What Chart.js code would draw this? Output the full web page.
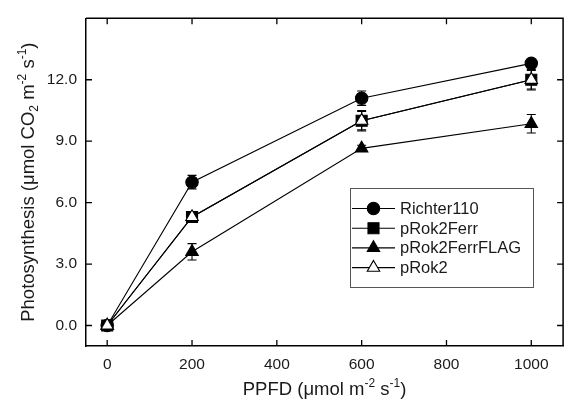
<!DOCTYPE html>
<html><head><meta charset="utf-8">
<script src="https://cdn.jsdelivr.net/npm/chart.js@4.4.1/dist/chart.umd.min.js"></script>
<style>
html,body{margin:0;padding:0;overflow:hidden;background:#fff;width:564px;height:409px}
#wrap{position:absolute;left:0;top:0;width:572px;height:409px}
</style>
</head><body><div id="wrap"><canvas id="c" width="572" height="409"></canvas></div>
<script>
// ---- data ----
const ppfd = [0, 200, 600, 1000];
const seriesNames = ['Richter110', 'pRok2Ferr', 'pRok2FerrFLAG', 'pRok2'];
const richter110 = [0, 7.0, 11.1, 12.8];
const pRok2Ferr = [0, 5.3, 10.0, 12.0];
const pRok2FerrFLAG = [0, 3.6, 8.65, 9.85];
const pRok2 = [0, 5.3, 10.0, 12.0];
const richter110Err = [0.1, 0.33, 0.35, 0.15];
const pRok2FerrErr = [0.1, 0.15, 0.5, 0.5];
const pRok2FerrFLAGErr = [0.1, 0.4, 0.15, 0.45];
const pRok2Err = [0.1, 0.15, 0.45, 0.45];
const xTicks = [0, 200, 400, 600, 800, 1000];
const yTicks = [0, 3, 6, 9, 12];
const xTitle = [{t:'PPFD (\u03BCmol m'},{t:'-2',s:'sup'},{t:' s'},{t:'-1',s:'sup'},{t:')'}];
const yTitle = [{t:'Photosynthesis (\u03BCmol CO'},{t:'2',s:'sub'},{t:' m'},{t:'-2',s:'sup'},{t:' s'},{t:'-1',s:'sup'},{t:')'}];

const FAMILY = 'Arial, "Liberation Sans", sans-serif';
const INK = '#1a1a1a';

function pts(ys){ return ppfd.map((x,i)=>({x:x, y:ys[i]})); }

const values = [richter110, pRok2Ferr, pRok2FerrFLAG, pRok2];
const errors = [richter110Err, pRok2FerrErr, pRok2FerrFLAGErr, pRok2Err];
const styles = [
  {pointStyle:'circle', pointRadius:6.2, fill:'#000', order:2},
  {pointStyle:'rect', pointRadius:7.8, fill:'#000', order:2},
  {pointStyle:'triangle', pointRadius:7.2, fill:'#000', order:2},
  {pointStyle:'triangle', pointRadius:7.2, fill:'#fff', order:1}
];

const datasets = seriesNames.map((name,i)=>({
  label: name,
  data: pts(values[i]),
  errs: errors[i],
  showLine: true,
  borderColor: '#000',
  borderWidth: 1.1,
  pointStyle: styles[i].pointStyle,
  pointRadius: styles[i].pointRadius,
  pointBackgroundColor: styles[i].fill,
  pointBorderColor: '#000',
  pointBorderWidth: 1.1,
  order: styles[i].order
}));

function drawRich(ctx, segs, cx, cy, size){
  const base = size + 'px ' + FAMILY;
  const small = Math.round(size*0.65) + 'px ' + FAMILY;
  let total = 0;
  const w = segs.map(s=>{ ctx.font = s.s ? small : base; const m = ctx.measureText(s.t).width; total += m; return m; });
  let x = cx - total/2;
  const by = cy + size*0.36;
  ctx.textAlign = 'left'; ctx.textBaseline = 'alphabetic';
  segs.forEach((s,i)=>{
    ctx.font = s.s ? small : base;
    const dy = s.s === 'sup' ? -size*0.42 : (s.s === 'sub' ? size*0.22 : 0);
    ctx.fillText(s.t, x, by + dy);
    x += w[i];
  });
}

const framePlugin = {
  id:'frame',
  beforeDatasetsDraw(chart){
    const {ctx, chartArea:a, scales:{x, y}} = chart;
    ctx.save();
    ctx.strokeStyle = '#000'; ctx.lineWidth = 1.5;
    ctx.beginPath();
    ctx.moveTo(a.left, a.top); ctx.lineTo(a.right, a.top); ctx.lineTo(a.right, a.bottom);
    ctx.stroke();
    const TL = 6;
    ctx.lineWidth = 1.3;
    ctx.beginPath();
    xTicks.forEach(v=>{
      const px = x.getPixelForValue(v);
      ctx.moveTo(px, a.bottom); ctx.lineTo(px, a.bottom - TL);
      ctx.moveTo(px, a.top); ctx.lineTo(px, a.top + TL);
    });
    yTicks.forEach(v=>{
      const py = y.getPixelForValue(v);
      ctx.moveTo(a.left, py); ctx.lineTo(a.left + TL, py);
      ctx.moveTo(a.right, py); ctx.lineTo(a.right - TL, py);
    });
    ctx.stroke();
    // error bars
    ctx.lineWidth = 1.1;
    chart.data.datasets.forEach(ds=>{
      ds.data.forEach((p,i)=>{
        const e = ds.errs[i];
        const px = x.getPixelForValue(p.x);
        const yt = y.getPixelForValue(p.y + e), yb = y.getPixelForValue(p.y - e);
        ctx.beginPath();
        ctx.moveTo(px, yt); ctx.lineTo(px, yb);
        ctx.moveTo(px-4.5, yt); ctx.lineTo(px+4.5, yt);
        ctx.moveTo(px-4.5, yb); ctx.lineTo(px+4.5, yb);
        ctx.stroke();
      });
    });
    ctx.restore();
  },
  afterDraw(chart){
    const {ctx, chartArea:a} = chart;
    ctx.save();
    ctx.fillStyle = INK;
    drawRich(ctx, xTitle, (a.left + a.right)/2, 388, 18.5);
    ctx.save();
    ctx.translate(27, (a.top + a.bottom)/2);
    ctx.rotate(-Math.PI/2);
    drawRich(ctx, yTitle, 0, 0, 18.5);
    ctx.restore();
    // legend
    const L = {x:350, y:188, w:183, h:99, row0:208.5, step:19.7, lx0:352, lx1:395, tx:400};
    ctx.strokeStyle = '#555'; ctx.lineWidth = 1;
    ctx.strokeRect(L.x + 0.5, L.y + 0.5, L.w, L.h);
    chart.data.datasets.forEach((ds,i)=>{
      const ry = L.row0 + i*L.step;
      ctx.strokeStyle = '#000'; ctx.lineWidth = 1.1;
      ctx.beginPath(); ctx.moveTo(L.lx0, ry); ctx.lineTo(L.lx1, ry); ctx.stroke();
      ctx.fillStyle = ds.pointBackgroundColor; ctx.strokeStyle = '#000'; ctx.lineWidth = 1.1;
      Chart.helpers.drawPoint(ctx, {pointStyle: ds.pointStyle, radius: ds.pointRadius, rotation:0, borderWidth:1.1}, (L.lx0+L.lx1)/2, ry);
      ctx.fillStyle = INK; ctx.font = '16.5px ' + FAMILY;
      ctx.textAlign = 'left'; ctx.textBaseline = 'middle';
      ctx.fillText(ds.label, L.tx, ry + 1);
    });
    ctx.restore();
  }
};

new Chart(document.getElementById('c'), {
  type: 'scatter',
  data: { datasets },
  options: {
    responsive: false,
    animation: false,
    events: [],
    layout: { padding: { top: 8, right: 6, left: 0, bottom: 0 } },
    plugins: { legend: { display: false }, tooltip: { enabled: false } },
    scales: {
      x: {
        type: 'linear', min: -50, max: 1075,
        afterBuildTicks: s => { s.ticks = xTicks.map(v=>({value:v})); },
        afterFit: s => { s.height = 63; },
        ticks: { color: INK, font: { family: FAMILY, size: 15.5 }, padding: 9, maxRotation: 0, autoSkip: false, callback: v => String(v) },
        grid: { display: false, drawTicks: false },
        border: { display: true, color: '#000', width: 1.5 }
      },
      y: {
        type: 'linear', min: -1, max: 15,
        afterBuildTicks: s => { s.ticks = yTicks.map(v=>({value:v})); },
        afterFit: s => { s.width = 86; },
        ticks: { color: INK, font: { family: FAMILY, size: 15.5 }, padding: 9, autoSkip: false, callback: v => Number(v).toFixed(1) },
        grid: { display: false, drawTicks: false },
        border: { display: true, color: '#000', width: 1.5 }
      }
    }
  },
  plugins: [framePlugin]
});
</script>
</body></html>
